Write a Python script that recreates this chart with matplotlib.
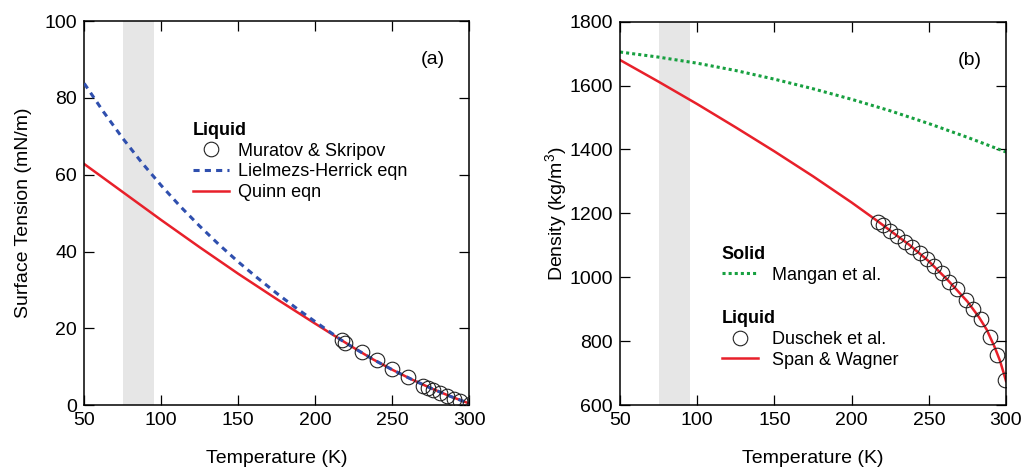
import numpy as np
import matplotlib
matplotlib.use('Agg')
from matplotlib import pyplot as plt

plt.rcParams['font.family'] = ['Liberation Sans', 'DejaVu Sans']
plt.rcParams['mathtext.default'] = 'regular'
plt.rcParams['font.size'] = 14

# (a) surface tension of liquid
ms_T = [217.1, 219.3, 230.1, 239.8, 249.6, 260.4, 270.1, 273.0, 276.2, 281.0, 285.3, 290.0, 294.0, 300.4]
ms_st = [16.9, 16.2, 13.7, 11.7, 9.5, 7.4, 5.0, 4.5, 3.9, 3.2, 2.3, 1.7, 1.1, 0.3]

lh_T = [50, 62.5, 75, 87.5, 100, 112.5, 125, 137.5, 150, 162.5, 175, 187.5, 200, 212.5, 217,
        225, 237.5, 250, 262.5, 275, 287.5, 300]
lh_st = [83.8, 76.4, 69.5, 63.1, 57.2, 51.7, 46.6, 41.8, 37.3, 33.1, 29.1, 25.3, 21.7, 18.2, 16.9,
         14.9, 11.9, 9.2, 6.7, 4.4, 2.3, 0.4]

qn_T = [50, 75, 100, 125, 150, 175, 200, 217, 225, 237.5, 250, 262.5, 275, 287.5, 300]
qn_st = [62.8, 55.5, 48.2, 41.1, 34.2, 27.6, 21.2, 16.9, 14.9, 11.9, 9.2, 6.7, 4.4, 2.3, 0.4]

# (b) density
mg_T = [50, 75, 100, 125, 150, 175, 200, 225, 250, 275, 300]
mg_rho = [1705, 1689, 1670, 1647, 1620, 1590, 1557, 1521, 1481, 1438, 1392]

du_T = [217.3, 220.1, 224.9, 229.6, 234.6, 238.9, 244.3, 248.6, 253.4, 258.4, 263.3, 268.1, 274.1, 278.8, 283.6, 289.6, 294.4, 299.4]
du_rho = [1174, 1164, 1146, 1130, 1111, 1094, 1075, 1056, 1035, 1012, 986, 962, 929, 900, 868, 814, 757, 678]

sw_T = [50, 75, 100, 125, 150, 175, 200, 217.3, 225, 237.5, 250, 262.5, 275, 282.5, 287.5, 292.5, 296, 298.5, 300]
sw_rho = [1680, 1612, 1542, 1469, 1394, 1316, 1234, 1174, 1146, 1101, 1050, 990, 924, 875, 836, 783, 740, 700, 675]

band = (75, 95)

red = '#e8202a'
blue = '#2f4fae'
green = '#17a040'

fig = plt.figure(figsize=(10.23, 4.71), dpi=100)
ax1 = fig.add_axes([0.0823, 0.140, 0.3765, 0.815])
ax2 = fig.add_axes([0.6061, 0.140, 0.3773, 0.814])

for ax in (ax1, ax2):
    ax.axvspan(band[0], band[1], color='#e6e6e6', lw=0, zorder=0)
    ax.set_xlim(50, 300)
    ax.set_xticks([50, 100, 150, 200, 250, 300])
    ax.tick_params(direction='in', length=7.5, width=0.9, top=True, right=True,
                   labelsize=14, pad=5)
    for s in ax.spines.values():
        s.set_linewidth(1.1)
    ax.set_xlabel('Temperature (K)', fontsize=14, labelpad=15)

leg_kw = dict(alignment='left', title_fontproperties={'weight': 'bold', 'size': 13},
              frameon=False, loc='upper left', borderaxespad=0, borderpad=0,
              handlelength=2.0, labelspacing=0.2, fontsize=13)

# panel a
ax1.plot(lh_T, lh_st, color=blue, lw=2.2, ls=(0, (2.0, 1.7)), label='Lielmezs-Herrick eqn', zorder=3)
ax1.plot(qn_T, qn_st, color=red, lw=1.8, label='Quinn eqn', zorder=2)
ax1.plot(ms_T, ms_st, 'o', mfc='none', mec='#222222', mew=0.8, ms=10.5, label='Muratov & Skripov', zorder=4)
ax1.set_ylim(0, 100)
ax1.set_yticks([0, 20, 40, 60, 80, 100])
ax1.set_ylabel('Surface Tension (mN/m)', fontsize=14, labelpad=9)
ax1.text(0.905, 0.9, '(a)', transform=ax1.transAxes, ha='center', va='center', fontsize=14)
h, l = ax1.get_legend_handles_labels()
ax1.legend([h[2], h[0], h[1]], [l[2], l[0], l[1]], title='Liquid',
           bbox_to_anchor=(0.283, 0.737), handletextpad=0.5, **leg_kw)

# panel b
l_mg, = ax2.plot(mg_T, mg_rho, color=green, lw=2.2, ls=(0, (1.0, 1.0)), label='Mangan et al.')
l_sw, = ax2.plot(sw_T, sw_rho, color=red, lw=1.8, label='Span & Wagner')
l_du, = ax2.plot(du_T, du_rho, 'o', mfc='none', mec='#222222', mew=0.8, ms=10.5, label='Duschek et al.')
ax2.set_ylim(600, 1800)
ax2.set_yticks(np.arange(600, 1801, 200))
ax2.set_ylabel('Density (kg/m$^{3}$)', fontsize=14, labelpad=0)
ax2.text(0.905, 0.9, '(b)', transform=ax2.transAxes, ha='center', va='center', fontsize=14)
leg1 = ax2.legend([l_mg], ['Mangan et al.'], title='Solid',
                  bbox_to_anchor=(0.263, 0.415), handletextpad=0.8, **leg_kw)
ax2.add_artist(leg1)
ax2.legend([l_du, l_sw], ['Duschek et al.', 'Span & Wagner'], title='Liquid',
           bbox_to_anchor=(0.263, 0.247), handletextpad=0.8, **leg_kw)

fig.savefig('out.png', dpi=100)
